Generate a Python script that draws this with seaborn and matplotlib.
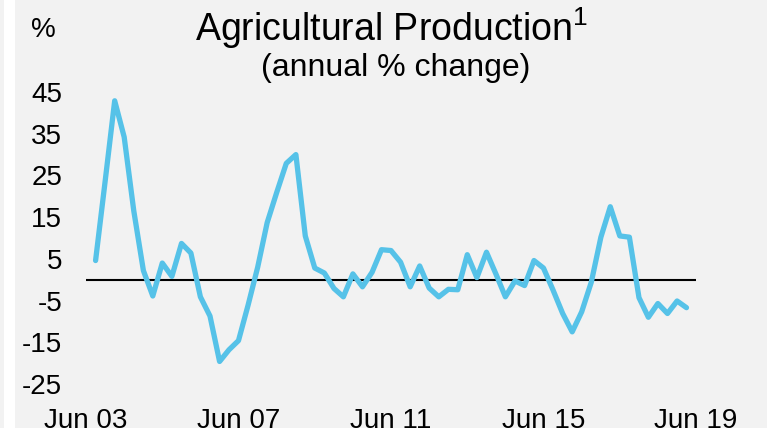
import numpy as np
import pandas as pd
import seaborn as sns
import matplotlib.pyplot as plt
from matplotlib.patches import Rectangle

# Quarterly data, Sep 2003 to Mar 2019 (annual % change)
quarters = pd.date_range("2003-09-30", periods=63, freq="QE")
production_growth = [
    4.6, 23.7, 42.9, 34.2, 16.5, 2.2, -3.9, 4.0, 0.8, 8.7,
    6.4, -4.1, -8.7, -19.6, -16.8, -14.6, -6.1, 3.0, 13.7, 20.9,
    27.9, 30.0, 10.5, 2.8, 1.6, -2.1, -4.1, 1.4, -1.7, 1.8,
    7.2, 7.0, 4.2, -1.7, 3.3, -2.0, -4.1, -2.3, -2.4, 6.0,
    0.5, 6.6, 1.4, -4.1, -0.3, -1.4, 4.6, 2.8, -2.5, -8.1,
    -12.5, -7.7, -0.6, 10.2, 17.5, 10.5, 10.2, -4.3, -9.0, -5.7,
    -8.1, -5.1, -6.7,
]
tick_dates = pd.to_datetime(["2003-06-30", "2007-06-30", "2011-06-30",
                             "2015-06-30", "2019-06-30"])
tick_labels = ["Jun 03", "Jun 07", "Jun 11", "Jun 15", "Jun 19"]
y_ticks = [45, 35, 25, 15, 5, -5, -15, -25]

bg = "#f2f2f2"
line_color = "#56c2e8"

sns.set_style("white", {"axes.facecolor": bg, "figure.facecolor": bg,
                        "text.color": "black", "xtick.color": "black",
                        "ytick.color": "black"})
plt.rcParams["font.family"] = ["Liberation Sans", "DejaVu Sans"]
plt.rcParams["mathtext.fontset"] = "custom"
plt.rcParams["mathtext.rm"] = "Liberation Sans"

fig = plt.figure(figsize=(7.67, 4.28), dpi=100)
ax = fig.add_axes([0.1121, 0.1028, 0.7953, 0.6822])

# White strip at the left edge
fig.patches.append(Rectangle((4 / 767, 0), 11 / 767, 1, transform=fig.transFigure,
                             facecolor="white", edgecolor="none", zorder=0))

ax.axhline(0, color="black", linewidth=1.5, zorder=1)
sns.lineplot(x=quarters, y=production_growth, ax=ax, color=line_color,
             linewidth=3.8, zorder=2, clip_on=False)

ax.set_xlim(tick_dates[0], tick_dates[-1])
ax.set_ylim(-25, 45)
ax.set_xticks(tick_dates)
ax.set_xticklabels(tick_labels)
ax.set_yticks(y_ticks)
ax.set_yticklabels([str(v) for v in y_ticks])
ax.tick_params(axis="both", length=0, labelsize=20, labelcolor="black")
ax.tick_params(axis="y", pad=17)
ax.tick_params(axis="x", pad=17)
ax.set_xlabel("")
ax.set_ylabel("")
sns.despine(ax=ax, left=True, bottom=True)

fig.text(0.51, 0.934, r"Agricultural Production$\mathregular{^1}$",
         ha="center", va="center", fontsize=27, color="black")
fig.text(0.516, 0.841, "(annual % change)", ha="center", va="center",
         fontsize=23, color="black")
fig.text(0.041, 0.93, "%", ha="left", va="center", fontsize=20, color="black")

fig.savefig("out.png", dpi=100, facecolor=bg)
